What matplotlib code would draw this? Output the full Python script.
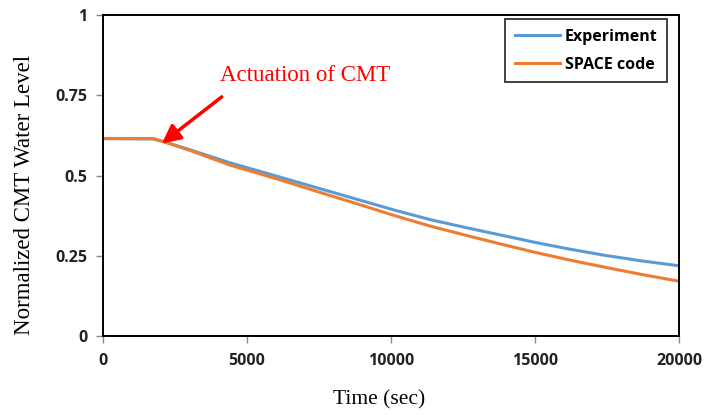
import matplotlib
matplotlib.use("Agg")
import matplotlib.pyplot as plt

# values
time_sec = [0, 1750, 2200, 3000, 4400, 5500, 6500, 7700, 8900, 10100, 11350, 12600,
            13800, 15000, 16200, 17400, 18650, 20000]
experiment = [0.615, 0.614, 0.603, 0.581, 0.540, 0.512, 0.486, 0.455, 0.424, 0.393,
              0.363, 0.338, 0.315, 0.292, 0.271, 0.252, 0.235, 0.219]
space_code = [0.615, 0.615, 0.603, 0.579, 0.533, 0.504, 0.477, 0.443, 0.410, 0.376,
              0.343, 0.314, 0.287, 0.261, 0.237, 0.215, 0.193, 0.171]

x_ticks = [0, 5000, 10000, 15000, 20000]
y_ticks = [0, 0.25, 0.5, 0.75, 1]
y_tick_labels = ["0", "0.25", "0.5", "0.75", "1"]

fig = plt.figure(figsize=(7.14, 4.15), dpi=100)
ax = fig.add_axes([0.144, 0.190, 0.807, 0.774])

ax.plot(time_sec, experiment, color="#5B9BD5", linewidth=2.2, label="Experiment")
ax.plot(time_sec, space_code, color="#ED7D31", linewidth=2.2, label="SPACE code")

ax.set_xlim(0, 20000)
ax.set_ylim(0, 1)
ax.set_xticks(x_ticks)
ax.set_yticks(y_ticks)
ax.set_yticklabels(y_tick_labels)

for lbl in ax.get_xticklabels() + ax.get_yticklabels():
    lbl.set_fontfamily("Open Sans")
    lbl.set_fontweight("bold")
    lbl.set_fontsize(11.5)
    lbl.set_color("#222222")
ax.tick_params(axis="both", direction="out", length=5, width=1, color="#888888")
ax.tick_params(axis="x", pad=7)
ax.tick_params(axis="y", pad=6)

for s in ax.spines.values():
    s.set_linewidth(1.4)
    s.set_color("black")

ax.set_xlabel("Time (sec)", fontfamily="Liberation Serif", fontsize=15.5)
ax.xaxis.set_label_coords(0.48, -0.168)
ax.set_ylabel("Normalized CMT Water Level", fontfamily="Liberation Serif", fontsize=16.5)
ax.yaxis.set_label_coords(-0.118, 0.44)

# actuation arrow
ax.text(4060, 0.813, "Actuation of CMT", color="red", fontfamily="Liberation Serif",
        fontsize=16.5, ha="left", va="center")
ax.annotate("", xy=(2050, 0.600), xytext=(4130, 0.745),
            arrowprops=dict(arrowstyle="-|>,head_length=1.1,head_width=0.55",
                            color="red", lw=2.5, shrinkA=0, shrinkB=0))

leg = ax.legend(loc="upper right", bbox_to_anchor=(0.979, 0.9875), borderaxespad=0,
                prop={"family": "Open Sans", "weight": "bold", "size": 11.5},
                frameon=True, fancybox=False, edgecolor="black",
                handlelength=2.8, borderpad=0.6, labelspacing=0.75,
                handletextpad=0.3)
leg.get_frame().set_linewidth(1.3)

fig.savefig("out.png", dpi=100)
